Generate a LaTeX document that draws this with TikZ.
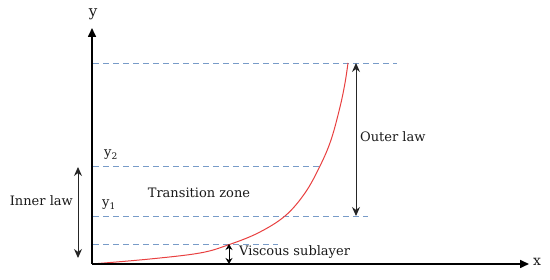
\documentclass[tikz,border=0pt]{standalone}
\usepackage{fontspec}
\setmainfont{DejaVu Serif}
\usetikzlibrary{arrows.meta}
\definecolor{dashblue}{RGB}{120,155,200}
\definecolor{curvered}{RGB}{232,64,64}
\tikzset{
  axis/.style={line width=1.6pt,-{Triangle[length=9pt,width=8pt]}},
  guide/.style={dashblue,line width=0.8pt,dash pattern=on 6pt off 4pt},
  dimarrow/.style={black!85,line width=1pt,{Stealth[length=9pt,width=8pt]}-{Stealth[length=9pt,width=8pt]}},
  lbl/.style={font=\fontsize{13}{15}\selectfont,inner sep=0pt,text=black!90},
}
\begin{document}
\begin{tikzpicture}[x=1pt,y=1pt]
\useasboundingbox (0,0) rectangle (550,280);
% origin
\coordinate (O) at (92,16);
\coordinate (ytip) at (92,252);
\coordinate (xtip) at (529,16);
% dashed guide lines
\coordinate (d4a) at (93,217); \coordinate (d4b) at (397,217);
\coordinate (d3a) at (93,114); \coordinate (d3b) at (320,114);
\coordinate (d2a) at (93,64);  \coordinate (d2b) at (368,64);
\coordinate (d1a) at (93,36);  \coordinate (d1b) at (278,36);
\draw[guide] (d4a) -- (d4b);
\draw[guide] (d3a) -- (d3b);
\draw[guide] (d2a) -- (d2b);
\draw[guide] (d1a) -- (d1b);
% velocity profile
\draw[curvered,line width=1pt] plot[smooth,tension=0.6] coordinates
  {(92,16) (150,21) (200,27) (228,35) (258,47) (285,64) (305,87) (320,114) (331,140) (340,173) (345,197) (348,217)};
% axes
\draw[axis] (O) -- (ytip);
\draw[axis] (O) -- (xtip);
\node[lbl,font=\fontsize{15}{17}\selectfont] (ylab) at (93,266) {y};
\node[lbl,font=\fontsize{14}{16}\selectfont] (xlab) at (537,18) {x};
% outer law
\coordinate (oa) at (356,217); \coordinate (ob) at (356,64);
\draw[dimarrow] (oa) -- (ob);
\node[lbl,anchor=west] (outer) at (360,143) {Outer law};
% inner law
\coordinate (ia) at (78,113); \coordinate (ib) at (78,22);
\draw[dimarrow] (ia) -- (ib);
\node[lbl,anchor=east] (inner) at (73,79) {Inner law};
% y labels
\node[lbl] (y2) at (111,125) {y\textsubscript{2}};
\node[lbl] (y1) at (109,75) {y\textsubscript{1}};
\node[lbl] (tz) at (199,87) {Transition zone};
% viscous sublayer
\coordinate (va) at (229,36); \coordinate (vb) at (229,16);
\draw[black,line width=1pt,{Stealth[length=6pt,width=7pt]}-{Stealth[length=6pt,width=7pt]}] (va) -- (vb);
\node[lbl,anchor=west] (vs) at (239,28) {Viscous sublayer};
\end{tikzpicture}
\end{document}
